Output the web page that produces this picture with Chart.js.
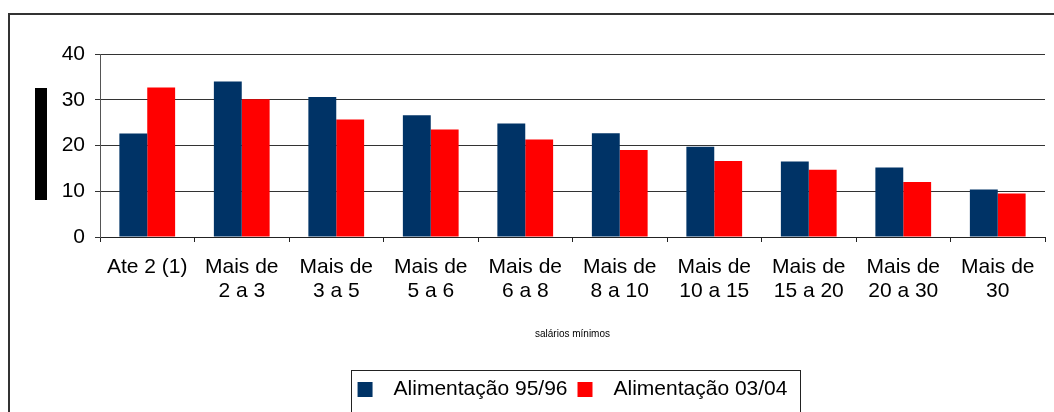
<!DOCTYPE html>
<html>
<head>
<meta charset="utf-8">
<script src="https://cdn.jsdelivr.net/npm/chart.js@4"></script>
<style>
  body { margin: 0; background: #fff; }
  #wrap { width: 1054px; height: 412px; }
</style>
</head>
<body>
<div id="wrap"><canvas id="chart"></canvas></div>
<script>
var categories = [
  'Ate 2 (1)',
  ['Mais de', '2 a 3'],
  ['Mais de', '3 a 5'],
  ['Mais de', '5 a 6'],
  ['Mais de', '6 a 8'],
  ['Mais de', '8 a 10'],
  ['Mais de', '10 a 15'],
  ['Mais de', '15 a 20'],
  ['Mais de', '20 a 30'],
  ['Mais de', '30']
];
var seriesNames = ['Alimentação 95/96', 'Alimentação 03/04'];
var alimentacao9596 = [22.6, 34.0, 30.6, 26.6, 24.8, 22.7, 19.7, 16.5, 15.2, 10.4];
var alimentacao0304 = [32.7, 30.1, 25.7, 23.5, 21.3, 19.0, 16.6, 14.7, 12.0, 9.5];
var yMin = 0, yMax = 40, yStep = 10;
var xTitle = 'salários mínimos';

// frame, the blacked-out y title and the box around the legend
var decor = {
  id: 'decor',
  afterLayout: function (chart) {
    // centre the legend under the plot area instead of the canvas
    var lg = chart.legend;
    var shift = (chart.chartArea.left + chart.chartArea.right) / 2 - (lg.left + lg.right) / 2;
    lg.left += shift;
    lg.right += shift;
  },
  afterDraw: function (chart) {
    var ctx = chart.ctx;
    ctx.save();
    ctx.strokeStyle = '#333';
    ctx.lineWidth = 2;
    ctx.strokeRect(9, 14, 1100, 500);
    ctx.fillStyle = '#000';
    ctx.fillRect(35, 88, 12, 112);
    var boxes = chart.legend.legendHitBoxes;
    if (boxes && boxes.length) {
      var first = boxes[0], last = boxes[boxes.length - 1];
      var cy = first.top + first.height / 2;
      ctx.lineWidth = 1;
      ctx.strokeStyle = '#222';
      ctx.strokeRect(Math.round(first.left - 7) + 0.5, Math.round(cy - 20) + 0.5,
        Math.round(last.left + last.width + 12 - (first.left - 7)), 100);
    }
    ctx.restore();
  }
};

new Chart(document.getElementById('chart'), {
  type: 'bar',
  data: {
    labels: categories,
    datasets: [{
      label: seriesNames[0],
      data: alimentacao9596,
      backgroundColor: '#003366'
    }, {
      label: seriesNames[1],
      data: alimentacao0304,
      backgroundColor: '#FF0000'
    }]
  },
  options: {
    responsive: true,
    maintainAspectRatio: false,
    animation: false,
    layout: { padding: { left: 0, right: 9, top: 54, bottom: 2 } },
    datasets: { bar: { barPercentage: 1, categoryPercentage: 0.59 } },
    scales: {
      x: {
        grid: { offset: true, drawOnChartArea: false, drawTicks: true, tickLength: 5, color: '#222' },
        border: { color: '#222' },
        ticks: {
          color: '#000', maxRotation: 0, autoSkip: false, padding: 13,
          font: { family: 'Liberation Sans, Arial', size: 21, lineHeight: 1.14 }
        },
        title: {
          display: true, text: xTitle, color: '#000',
          font: { family: 'Liberation Sans, Arial', size: 10 },
          padding: { top: 0, bottom: 29 }
        },
        afterFit: function (scale) { scale.height = 132; }
      },
      y: {
        min: yMin, max: yMax,
        grid: { color: '#333', tickLength: 5 },
        border: { color: '#555' },
        ticks: {
          stepSize: yStep, color: '#000', padding: 10,
          font: { family: 'Liberation Sans, Arial', size: 21 }
        },
        afterFit: function (scale) { scale.width = 100; }
      }
    },
    plugins: {
      legend: {
        position: 'bottom',
        labels: {
          boxWidth: 15, boxHeight: 15, padding: 10, color: '#000',
          font: { family: 'Liberation Sans, Arial', size: 21 },
          generateLabels: function (chart) {
            return Chart.defaults.plugins.legend.labels.generateLabels(chart).map(function (l) {
              l.text = '\u2002' + l.text;
              l.lineWidth = 0;
              return l;
            });
          }
        }
      },
      tooltip: { enabled: false }
    }
  },
  plugins: [decor]
});
</script>
</body>
</html>
